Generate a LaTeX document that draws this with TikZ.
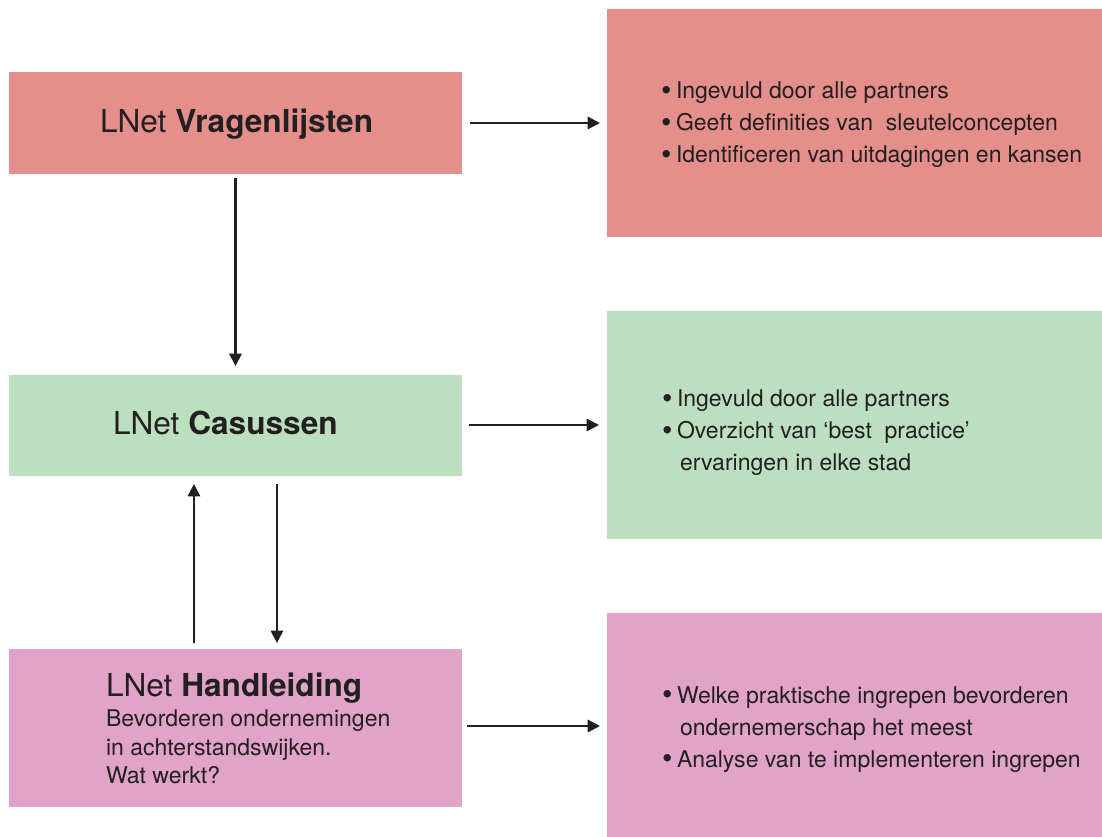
\documentclass[tikz,border=0pt]{standalone}
\usepackage{fontspec}
\setmainfont{TeX Gyre Heros}
\usetikzlibrary{arrows.meta,fit}
\definecolor{boxred}{HTML}{E48F8C}
\definecolor{boxgreen}{HTML}{BCDFC0}
\definecolor{boxpink}{HTML}{E1A3C8}
\definecolor{ink}{HTML}{231F20}
\newcommand{\bul}{\makebox[0.3cm][l]{\raisebox{-1.1pt}{\fontsize{17pt}{17pt}\selectfont\textbullet}}}
\begin{document}
\begin{tikzpicture}[x=0.02cm,y=-0.02cm,
  box/.style={draw=none, inner sep=0pt, outer sep=0pt},
  txt/.style={anchor=base west, inner sep=0pt, outer sep=0pt, text=ink, font=\fontsize{13.1pt}{16pt}\selectfont},
  ttl/.style={anchor=base west, inner sep=0pt, outer sep=0pt, text=ink, font=\fontsize{18pt}{21pt}\selectfont},
  conn/.style={draw=ink, line width=1.2pt, -{Triangle[length=7pt,width=7pt]}}
]
\useasboundingbox (0,0) rectangle (1102,837);
% left boxes
\node[box, fill=boxred,   fit={(9,72)(462,174)}]  (q) {};
\node[box, fill=boxgreen, fit={(9,375)(462,476)}] (c) {};
\node[box, fill=boxpink,  fit={(9,649)(462,807)}] (h) {};
% right boxes
\node[box, fill=boxred,   fit={(607,9)(1102,237)}]   (rq) {};
\node[box, fill=boxgreen, fit={(607,311)(1102,539)}] (rc) {};
\node[box, fill=boxpink,  fit={(607,613)(1102,837)}] (rh) {};
% titles
\node[ttl] (tq) at (100,133) {LNet \textbf{Vragenlijsten}};
\node[ttl] (tc) at (113,435) {LNet \textbf{Casussen}};
\node[ttl] (th) at (106,696) {LNet \textbf{Handleiding}};
\node[txt] (h1) at (106,726) {Bevorderen ondernemingen};
\node[txt] (h2) at (106,755) {in achterstandswijken.};
\node[txt] (h3) at (106,783) {Wat werkt?};
% right texts
\node[txt] (q1) at (661,99)  {\bul Ingevuld door alle partners};
\node[txt] (q2) at (661,131) {\bul Geeft definities van \ sleutelconcepten};
\node[txt] (q3) at (661,163) {\bul Identificeren van uitdagingen en kansen};
\node[txt] (c1) at (662,407) {\bul Ingevuld door alle partners};
\node[txt] (c2) at (662,439) {\bul Overzicht van ‘best \ practice’};
\node[txt] (c3) at (680,471) {ervaringen in elke stad};
\node[txt] (r1) at (662,703) {\bul Welke praktische ingrepen bevorderen};
\node[txt] (r2) at (680,735) {ondernemerschap het meest};
\node[txt] (r3) at (662,767) {\bul Analyse van te implementeren ingrepen};
% connectors
\draw[conn, shorten <=0.16cm, shorten >=0.14cm] (q.east) -- (rq.west |- q.east);
\draw[conn, shorten <=0.14cm, shorten >=0.16cm] ([yshift=0.01cm]c.east) -- ([yshift=0.01cm]c.east -| rc.west);
\draw[conn, shorten <=0.10cm, shorten >=0.14cm] ([yshift=0.04cm]h.east) -- ([yshift=0.04cm]h.east -| rh.west);
\draw[conn, shorten <=0.08cm, shorten >=0.18cm] (q.south) -- (c.north);
\draw[conn, shorten <=0.12cm, shorten >=0.16cm] ([xshift=3.7cm]h.north west) -- ([xshift=3.7cm]c.south west);
\draw[conn, shorten <=0.16cm, shorten >=0.12cm] ([xshift=5.36cm]c.south west) -- ([xshift=5.36cm]h.north west);
\end{tikzpicture}
\end{document}
